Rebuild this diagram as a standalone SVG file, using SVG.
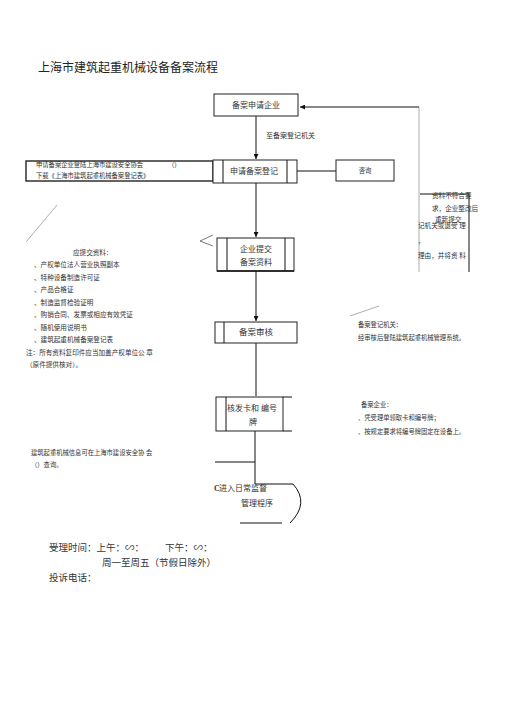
<svg xmlns="http://www.w3.org/2000/svg" width="505" height="714" viewBox="0 0 505 714">
<defs>
<style>
text{font-family:"Liberation Serif","Noto Sans CJK SC",serif;fill:#333}
.t{font-size:12px;fill:#222}
.b{font-size:8px}
.s{font-size:6.3px}
.m{font-size:6.6px}
.f{font-size:9.5px}
.box{fill:#fff;stroke:#222;stroke-width:1}
.ln{fill:none;stroke:#111;stroke-width:1}
.gl{fill:none;stroke:#999;stroke-width:0.8}
</style>
<marker id="ah" viewBox="0 0 10 10" refX="10" refY="5" markerWidth="5" markerHeight="5" orient="auto"><path d="M0,0L10,5L0,10z" fill="#111"/></marker>
</defs>
<rect width="505" height="714" fill="#fff"/>
<text class="t" x="38" y="72">上海市建筑起重机械设备备案流程</text>

<g id="connectors">
<line class="ln" x1="256" y1="116" x2="256" y2="159" marker-end="url(#ah)"/>
<line class="ln" x1="297" y1="171" x2="336" y2="171"/>
<line class="ln" x1="256" y1="183" x2="256" y2="237" marker-end="url(#ah)"/>
<line class="ln" x1="256" y1="271" x2="256" y2="321" marker-end="url(#ah)"/>
<line class="ln" x1="256" y1="343" x2="256" y2="396"/>
<line class="ln" x1="255" y1="431" x2="255" y2="484"/>
<line class="ln" x1="215" y1="462" x2="255" y2="462"/>
<polyline class="gl" points="419,272 419,107"/>
<line class="ln" x1="419" y1="107" x2="300" y2="107" marker-end="url(#ah)"/>
<polyline class="ln" points="420,194 469,194 469,272"/>
<polyline class="gl" points="213,235 200,241 213,246" style="stroke:#555"/>
<line class="gl" x1="26" y1="242" x2="57" y2="205"/>
<line class="gl" x1="350" y1="316" x2="379" y2="306"/>
</g>

<g id="n1"><rect class="box" x="214" y="94" width="84" height="22"/><text class="b" x="256" y="108" text-anchor="middle">备案申请企业</text></g>
<text class="s" x="266" y="138" style="font-size:7px">至备案登记机关</text>

<g id="note1"><rect x="26" y="161" width="187" height="20" fill="#fff" stroke="#111" stroke-width="1.3"/>
<text class="s" x="36" y="167">申请备案企业登陆上海市建设安全协会</text>
<text class="s" x="168" y="167">（）</text>
<text class="s" x="36" y="178">下载《上海市建筑起重机械备案登记表》</text></g>

<g id="n2"><rect class="box" x="213" y="160" width="84" height="23"/><line class="ln" x1="223" y1="160" x2="223" y2="183"/><line class="ln" x1="287" y1="160" x2="287" y2="183"/><text class="b" x="230" y="174">申请备案登记</text></g>

<g id="n2b"><rect class="box" x="336" y="160" width="58" height="21"/><text class="s" x="365" y="173" text-anchor="middle">咨询</text></g>

<g id="reject">
<text class="m" x="432" y="198">资料不符合要</text>
<text class="m" x="432" y="211">求，企业整改后</text>
<text class="m" x="435" y="222">重新提交</text>
<text class="m" x="418" y="228">记机关或退受 理</text>
<text class="m" x="418" y="243">，</text>
<text class="m" x="418" y="258">理由，并将资 料</text>
</g>

<g id="n3"><rect class="box" x="217" y="238" width="77" height="33"/><line class="ln" x1="227" y1="238" x2="227" y2="271"/><line class="ln" x1="285" y1="238" x2="285" y2="271"/><line x1="217" y1="271" x2="294" y2="271" stroke="#111" stroke-width="1.6"/><text class="b" x="256" y="252" text-anchor="middle">企业提交</text><text class="b" x="256" y="265" text-anchor="middle">备案资料</text></g>

<g id="list">
<text class="m" x="73" y="255">应提交资料：</text>
<text class="m" x="34" y="267">、产权单位法人营业执照副本</text>
<text class="m" x="34" y="280">、特种设备制造许可证</text>
<text class="m" x="34" y="292">、产品合格证</text>
<text class="m" x="34" y="305">、制造监督检验证明</text>
<text class="m" x="34" y="317">、购销合同、发票或相应有效凭证</text>
<text class="m" x="34" y="330">、随机使用说明书</text>
<text class="m" x="34" y="342">、建筑起重机械备案登记表</text>
<text class="m" x="26" y="355">注：所有资料复印件应当加盖产权单位公 章</text>
<text class="m" x="26" y="367">（原件提供核对）。</text>
</g>

<g id="n4"><rect class="box" x="215" y="322" width="82" height="21"/><line class="ln" x1="224" y1="322" x2="224" y2="343"/><text class="b" x="256" y="335" text-anchor="middle" style="font-size:8.5px">备案审核</text></g>

<g id="note2">
<text class="s" x="358" y="327">备案登记机关：</text>
<text class="s" x="358" y="340">经审核后登陆建筑起重机械管理系统。</text>
</g>

<g id="n5"><rect class="box" x="216" y="397" width="67" height="34"/><line class="ln" x1="226" y1="397" x2="226" y2="431"/><line class="ln" x1="283" y1="397" x2="292" y2="397"/><line class="ln" x1="283" y1="431" x2="292" y2="431"/><text class="b" x="227" y="411">核发卡和 编号</text><text class="b" x="253" y="425" text-anchor="middle">牌</text></g>

<g id="note3">
<text class="s" x="361" y="407">备案企业：</text>
<text class="s" x="358" y="420">、凭受理单领取卡和编号牌；</text>
<text class="s" x="358" y="434">、按规定要求将编号牌固定在设备上。</text>
</g>

<g id="note4">
<text class="s" x="31" y="455">建筑起重机械信息可在上海市建设安全协 会</text>
<text class="s" x="31" y="467">（）查询。</text>
</g>

<g id="n6">
<path class="ln" d="M255,484 H293 Q310,503 290,523"/>
<line class="ln" x1="240" y1="523" x2="282" y2="523"/>
<text class="b" x="214" y="491" style="font-weight:bold">C</text>
<text class="b" x="219" y="491">进入日常监督</text>
<text class="b" x="241" y="506">管理程序</text>
</g>

<g id="footer">
<text class="f" x="49" y="551">受理时间：上午：∽：</text>
<text class="f" x="165" y="551">下午：∽：</text>
<text class="f" x="102" y="566">周一至周五（节假日除外）</text>
<text class="f" x="49" y="581">投诉电话：</text>
</g>
</svg>
